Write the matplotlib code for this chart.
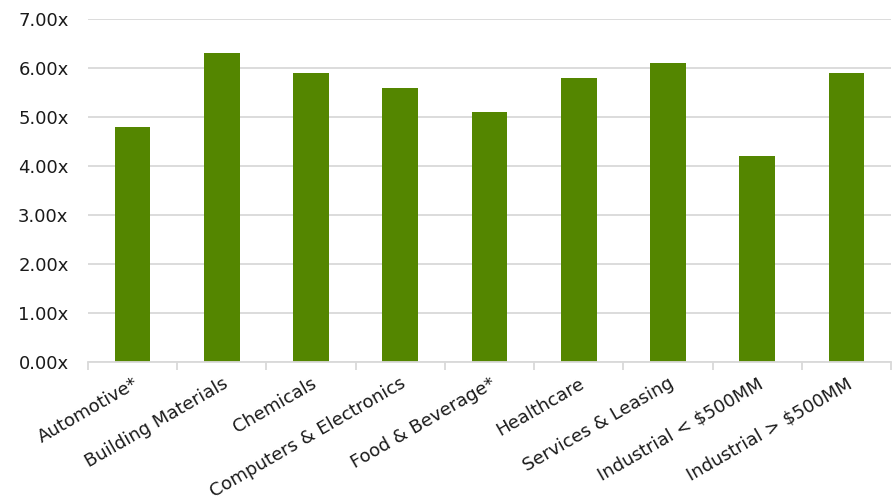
import matplotlib
matplotlib.use("Agg")
import matplotlib.pyplot as plt
import numpy as np
from matplotlib.ticker import FixedLocator, FuncFormatter

categories = ["Automotive*", "Building Materials", "Chemicals", "Computers & Electronics",
              "Food & Beverage*", "Healthcare", "Services & Leasing",
              "Industrial < $500MM", "Industrial > $500MM"]
values = [4.8, 6.3, 5.9, 5.6, 5.1, 5.8, 6.1, 4.2, 5.9]
y_ticks = [0, 1, 2, 3, 4, 5, 6, 7]

plt.rcParams['font.family'] = ['DejaVu Sans']

fig = plt.figure(figsize=(8.94, 5.0), dpi=100)
ax = fig.add_axes([88/894, 1-362/500, (891-88)/894, (362-19)/500])

x = np.arange(len(categories))
ax.bar(x, values, width=0.4, color="#548600", zorder=3)

ax.set_xlim(-0.5, len(categories) - 0.5)
ax.set_ylim(0, 7)
ax.set_yticks(y_ticks)
ax.yaxis.set_major_formatter(FuncFormatter(lambda v, p: f"{v:.2f}x"))
ax.grid(axis='y', color="#d9d9d9", linewidth=1.3, zorder=0)
ax.tick_params(axis='y', length=0, labelsize=13, pad=14, labelcolor="#1a1a1a")

# boundary ticks (major) and category labels (minor)
ax.xaxis.set_major_locator(FixedLocator(np.arange(-0.5, len(categories), 1.0)))
ax.xaxis.set_major_formatter(FuncFormatter(lambda v, p: ""))
ax.xaxis.set_minor_locator(FixedLocator(x))
ax.set_xticklabels(categories, minor=True, rotation=30, ha='right',
                   rotation_mode='anchor', fontsize=13, color="#1a1a1a")
ax.tick_params(axis='x', which='major', length=6, color="#d9d9d9", width=1.3)
ax.tick_params(axis='x', which='minor', length=0, pad=9)

for s in ['top', 'right', 'left']:
    ax.spines[s].set_visible(False)
ax.spines['bottom'].set_color("#d9d9d9")
ax.spines['bottom'].set_linewidth(1.3)
ax.spines['bottom'].set_zorder(4)

fig.savefig("out.png", dpi=100)
